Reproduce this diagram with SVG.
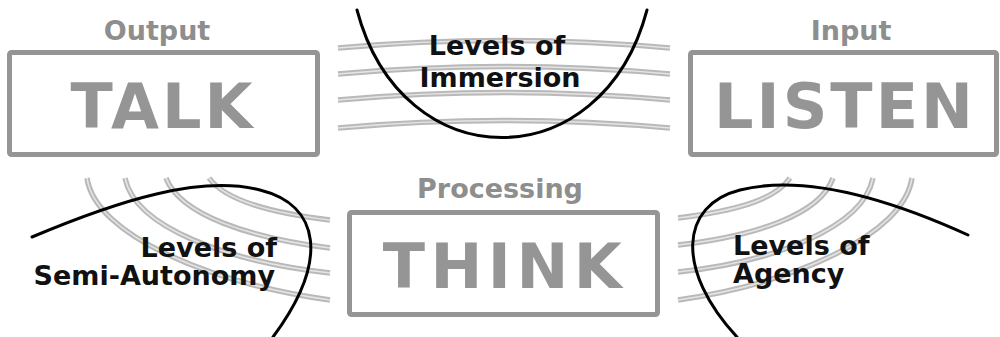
<svg xmlns="http://www.w3.org/2000/svg" xmlns:xlink="http://www.w3.org/1999/xlink" width="1000" height="337" viewBox="0 0 1000 337">
<style>
  .box { fill: none; stroke: #959595; stroke-width: 5; }
  .big { font-family: "DejaVu Sans", Verdana, sans-serif; font-weight: bold; font-size: 62px; fill: #959595; text-anchor: middle; }
  .lab { font-family: "DejaVu Sans", Verdana, sans-serif; font-weight: bold; font-size: 27px; fill: #8e8e8e; text-anchor: middle; }
  .lvl { font-family: "DejaVu Sans", Verdana, sans-serif; font-weight: bold; font-size: 27px; fill: #111; }
  .curve { fill: none; stroke: #000; stroke-width: 3; stroke-linecap: round; }
  .bandO { fill: none; stroke: #b9b9b9; stroke-width: 5.5; }
  .bandI { fill: none; stroke: #e4e4e4; stroke-width: 1.6; }
</style>
<defs>
  <path id="t1" d="M338,48 Q504,33 670,48"/>
  <path id="t2" d="M338,74 Q504,59 670,74"/>
  <path id="t3" d="M338,100 Q504,85 670,100"/>
  <path id="t4" d="M338,128 Q504,113 670,128"/>
  <path id="l1" d="M87,178 C95,235 210,283 330,300"/>
  <path id="l2" d="M125,178 C135,228 230,262 330,273"/>
  <path id="l3" d="M166,178 C180,215 250,238 330,248"/>
  <path id="l4" d="M209,178 C225,200 270,213 330,220"/>
  <path id="r1" d="M912,178 C904,235 794,283 678,300"/>
  <path id="r2" d="M873,178 C863,228 773,262 678,272"/>
  <path id="r3" d="M833,178 C820,215 755,236 678,245"/>
  <path id="r4" d="M790,178 C775,200 735,211 678,218"/>
</defs>

<g id="connectors">
  <use xlink:href="#t1" class="bandO"/><use xlink:href="#t1" class="bandI"/>
  <use xlink:href="#t2" class="bandO"/><use xlink:href="#t2" class="bandI"/>
  <use xlink:href="#t3" class="bandO"/><use xlink:href="#t3" class="bandI"/>
  <use xlink:href="#t4" class="bandO"/><use xlink:href="#t4" class="bandI"/>
  <use xlink:href="#l1" class="bandO"/><use xlink:href="#l1" class="bandI"/>
  <use xlink:href="#l2" class="bandO"/><use xlink:href="#l2" class="bandI"/>
  <use xlink:href="#l3" class="bandO"/><use xlink:href="#l3" class="bandI"/>
  <use xlink:href="#l4" class="bandO"/><use xlink:href="#l4" class="bandI"/>
  <use xlink:href="#r1" class="bandO"/><use xlink:href="#r1" class="bandI"/>
  <use xlink:href="#r2" class="bandO"/><use xlink:href="#r2" class="bandI"/>
  <use xlink:href="#r3" class="bandO"/><use xlink:href="#r3" class="bandI"/>
  <use xlink:href="#r4" class="bandO"/><use xlink:href="#r4" class="bandI"/>
</g>

<g id="talk">
  <text class="lab" x="157" y="40">Output</text>
  <rect class="box" x="9.5" y="52.5" width="308" height="102" rx="2"/>
  <text class="big" x="163" y="128" letter-spacing="3">TALK</text>
</g>

<g id="listen">
  <text class="lab" x="851" y="40">Input</text>
  <rect class="box" x="690.5" y="52.5" width="306" height="102" rx="2"/>
  <text class="big" x="845" y="128" letter-spacing="3">LISTEN</text>
</g>

<g id="think">
  <text class="lab" x="500" y="198">Processing</text>
  <rect class="box" x="349.5" y="212.5" width="308" height="102" rx="2"/>
  <text class="big" x="505" y="288" letter-spacing="5.5">THINK</text>
</g>

<g id="immersion">
  <path class="curve" d="M357,10 C402,180 602,180 647,10"/>
  <text class="lvl" x="497" y="55" text-anchor="middle">Levels of</text>
  <text class="lvl" x="500" y="87" text-anchor="middle">Immersion</text>
</g>

<g id="semi-autonomy">
  <path class="curve" d="M32,237 C120,200 200,175 260,190 C320,205 330,260 273,337"/>
  <text class="lvl" x="277" y="257" text-anchor="end">Levels of</text>
  <text class="lvl" x="275" y="285" text-anchor="end">Semi-Autonomy</text>
</g>

<g id="agency">
  <path class="curve" d="M968,235 C880,195 800,175 740,190 C680,205 675,270 737,337"/>
  <text class="lvl" x="733" y="255">Levels of</text>
  <text class="lvl" x="733" y="283">Agency</text>
</g>
</svg>
